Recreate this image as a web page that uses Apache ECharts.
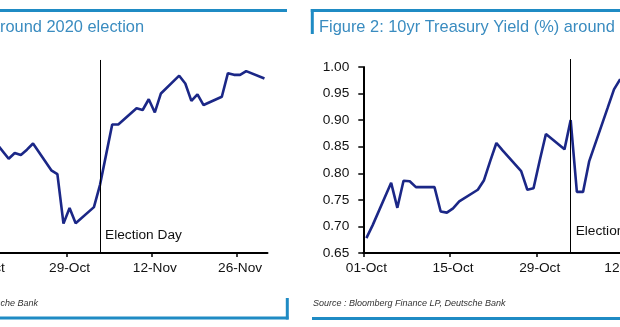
<!DOCTYPE html>
<html><head><meta charset="utf-8">
<script src="https://cdn.jsdelivr.net/npm/echarts@6/dist/echarts.min.js"></script>
<style>html,body{margin:0;padding:0;background:#fff}#c{width:620px;height:327px}</style>
</head><body><div id="c"></div>
<script>
// ---- data ----
const xTickLabels = ['01-Oct', '15-Oct', '29-Oct', '12-Nov', '26-Nov'];
const electionDate = '2020-11-03';

// Figure 1 (left panel, y axis outside the picture)
const spxDates = ['2020-10-16','2020-10-19','2020-10-20','2020-10-21','2020-10-22','2020-10-23',
  '2020-10-26','2020-10-27','2020-10-28','2020-10-29','2020-10-30','2020-11-02','2020-11-03',
  '2020-11-04','2020-11-05','2020-11-06','2020-11-09','2020-11-10','2020-11-11','2020-11-12',
  '2020-11-13','2020-11-16','2020-11-17','2020-11-18','2020-11-19','2020-11-20','2020-11-23',
  '2020-11-24','2020-11-25','2020-11-26','2020-11-27','2020-11-30'];
const spxValues = [3484,3428,3442,3437,3450,3465,3400,3391,3271,3309,3272,3311,3365,
  3438,3511,3511,3550,3546,3572,3540,3586,3629,3610,3568,3584,3558,3578,3635,3631,3631,3640,3622];

// Figure 2: 10yr Treasury Yield (%)
const ustDates = ['2020-10-01','2020-10-02','2020-10-05','2020-10-06','2020-10-07','2020-10-08',
  '2020-10-09','2020-10-12','2020-10-13','2020-10-14','2020-10-15','2020-10-16','2020-10-19',
  '2020-10-20','2020-10-21','2020-10-22','2020-10-23','2020-10-26','2020-10-27','2020-10-28',
  '2020-10-29','2020-10-30','2020-11-02','2020-11-03','2020-11-04','2020-11-05','2020-11-06',
  '2020-11-09','2020-11-10','2020-11-11'];
const ustValues = [0.678,0.702,0.782,0.735,0.786,0.785,0.774,0.774,0.728,0.726,0.734,0.747,0.769,
  0.787,0.823,0.857,0.843,0.804,0.769,0.772,0.824,0.874,0.845,0.900,0.765,0.765,0.823,
  0.924,0.958,0.977];
const ustTickLabels = ['0.65','0.70','0.75','0.80','0.85','0.90','0.95','1.00'];

// ---- helpers ----
const BASE = Date.parse('2020-10-01');
const dayIdx = s => (Date.parse(s) - BASE) / 864e5;
const slot = s => dayIdx(s) + 0.5;          // date-axis points sit mid-slot
const tickVals = xTickLabels.map((_, i) => i * 14);
const labelVals = tickVals.map(v => v + 0.5);
const FONT = '"Liberation Sans", Arial, sans-serif';
const LINE = '#1b2787';
const BOX = '#1f8bc4';
const TITLE = '#3a8cc0';
const ex = slot(electionDate);

function xAxisCfg(gi) {
  return {
    type: 'value', gridIndex: gi, min: 0, max: 61,
    axisLine: { show: true, lineStyle: { color: '#000', width: 2 } },
    axisTick: { show: true, customValues: tickVals, length: 4, lineStyle: { color: '#000', width: 1.5 } },
    axisLabel: { customValues: labelVals, formatter: v => xTickLabels[Math.floor(v / 14)] || '',
      fontSize: 13.7, fontFamily: FONT, color: '#111', margin: 8 },
    splitLine: { show: false }
  };
}

function electionMarks(yBottom, topPx, yLabel) {
  const mark = {
    markPoint: { silent: true, animation: false,
      data: [{ coord: [ex, yLabel], symbol: 'circle', symbolSize: 0,
        itemStyle: { color: 'transparent' },
        label: { show: true, position: 'right', distance: 5, formatter: 'Election Day',
          color: '#111', fontSize: 13.7, fontFamily: FONT } }] }
  };
  if (topPx) {
    mark.markLine = { symbol: 'none', silent: true, animation: false,
      lineStyle: { color: '#000', width: 1, type: 'solid' }, label: { show: false },
      data: [[{ coord: [ex, yBottom] }, { x: topPx[0], y: topPx[1] }]] };
  }
  return mark;
}

const ustMin = parseFloat(ustTickLabels[0]);
const ustMax = parseFloat(ustTickLabels[ustTickLabels.length - 1]);

function buildOption(topL, topR) {
  return {
    animation: false,
    backgroundColor: '#fff',
    grid: [
      { left: -104, top: 67, width: 371.5, height: 186, outerBoundsMode: 'none', containLabel: false },
      { left: 363.3, top: 67, width: 377.6, height: 186, outerBoundsMode: 'none', containLabel: false }
    ],
    xAxis: [xAxisCfg(0), xAxisCfg(1)],
    yAxis: [
      { type: 'value', gridIndex: 0, min: 3200, max: 3650, show: false },
      { type: 'value', gridIndex: 1, min: ustMin, max: ustMax, interval: 0.05,
        axisLine: { show: true, lineStyle: { color: '#000', width: 2 } },
        axisTick: { show: true, length: 5, lineStyle: { color: '#000', width: 1.5 } },
        axisLabel: { formatter: v => v.toFixed(2), fontSize: 13.7, fontFamily: FONT, color: '#111', margin: 14 },
        splitLine: { show: false } }
    ],
    series: [
      Object.assign({
        type: 'line', xAxisIndex: 0, yAxisIndex: 0, symbol: 'none', clip: false,
        data: spxDates.map((d, i) => [slot(d), spxValues[i]]),
        lineStyle: { color: LINE, width: 2.6 }
      }, electionMarks(3200, topL, 3244)),
      Object.assign({
        type: 'line', xAxisIndex: 1, yAxisIndex: 1, symbol: 'none', clip: false,
        data: ustDates.map((d, i) => [slot(d), ustValues[i]]),
        lineStyle: { color: LINE, width: 2.6 }
      }, electionMarks(ustMin, topR, 0.6916))
    ],
    graphic: [
      // left panel frame
      { type: 'line', shape: { x1: 0, y1: 10.5, x2: 287, y2: 10.5 }, style: { stroke: BOX, lineWidth: 3 } },
      { type: 'line', shape: { x1: 0, y1: 318, x2: 288.5, y2: 318 }, style: { stroke: BOX, lineWidth: 3 } },
      { type: 'line', shape: { x1: 287.3, y1: 298, x2: 287.3, y2: 319.5 }, style: { stroke: BOX, lineWidth: 3 } },
      // right panel frame
      { type: 'line', shape: { x1: 310.8, y1: 10.5, x2: 620, y2: 10.5 }, style: { stroke: BOX, lineWidth: 3 } },
      { type: 'line', shape: { x1: 312.3, y1: 9, x2: 312.3, y2: 34 }, style: { stroke: BOX, lineWidth: 3 } },
      { type: 'line', shape: { x1: 312, y1: 318.5, x2: 620, y2: 318.5 }, style: { stroke: BOX, lineWidth: 3 } },
      // titles
      { type: 'text', x: 144, y: 27, style: { text: 'around 2020 election', fill: TITLE,
        font: '16.4px ' + FONT, align: 'right', verticalAlign: 'middle' } },
      { type: 'text', x: 319, y: 27, style: { text: 'Figure 2: 10yr Treasury Yield (%) around', fill: TITLE,
        font: '16.4px ' + FONT, align: 'left', verticalAlign: 'middle' } },
      // sources
      { type: 'text', x: 38, y: 303, style: { text: 'Source : Bloomberg Finance LP, Deutsche Bank', fill: '#333',
        font: 'italic 9px ' + FONT, align: 'right', verticalAlign: 'middle' } },
      { type: 'text', x: 313, y: 303, style: { text: 'Source : Bloomberg Finance LP, Deutsche Bank', fill: '#333',
        font: 'italic 9px ' + FONT, align: 'left', verticalAlign: 'middle' } }
    ]
  };
}

const chart = echarts.init(document.getElementById('c'), null, { renderer: 'canvas' });
chart.setOption(buildOption(null, null));
// top ends of the election-day rules, through the axes' own scales (they reach a little above the plot)
const topL = chart.convertToPixel({ xAxisIndex: 0, yAxisIndex: 0 }, [ex, 3667]);
const topR = chart.convertToPixel({ xAxisIndex: 1, yAxisIndex: 1 }, [ex, 1.015]);
chart.setOption(buildOption(topL, topR), true);
</script>
</body></html>
